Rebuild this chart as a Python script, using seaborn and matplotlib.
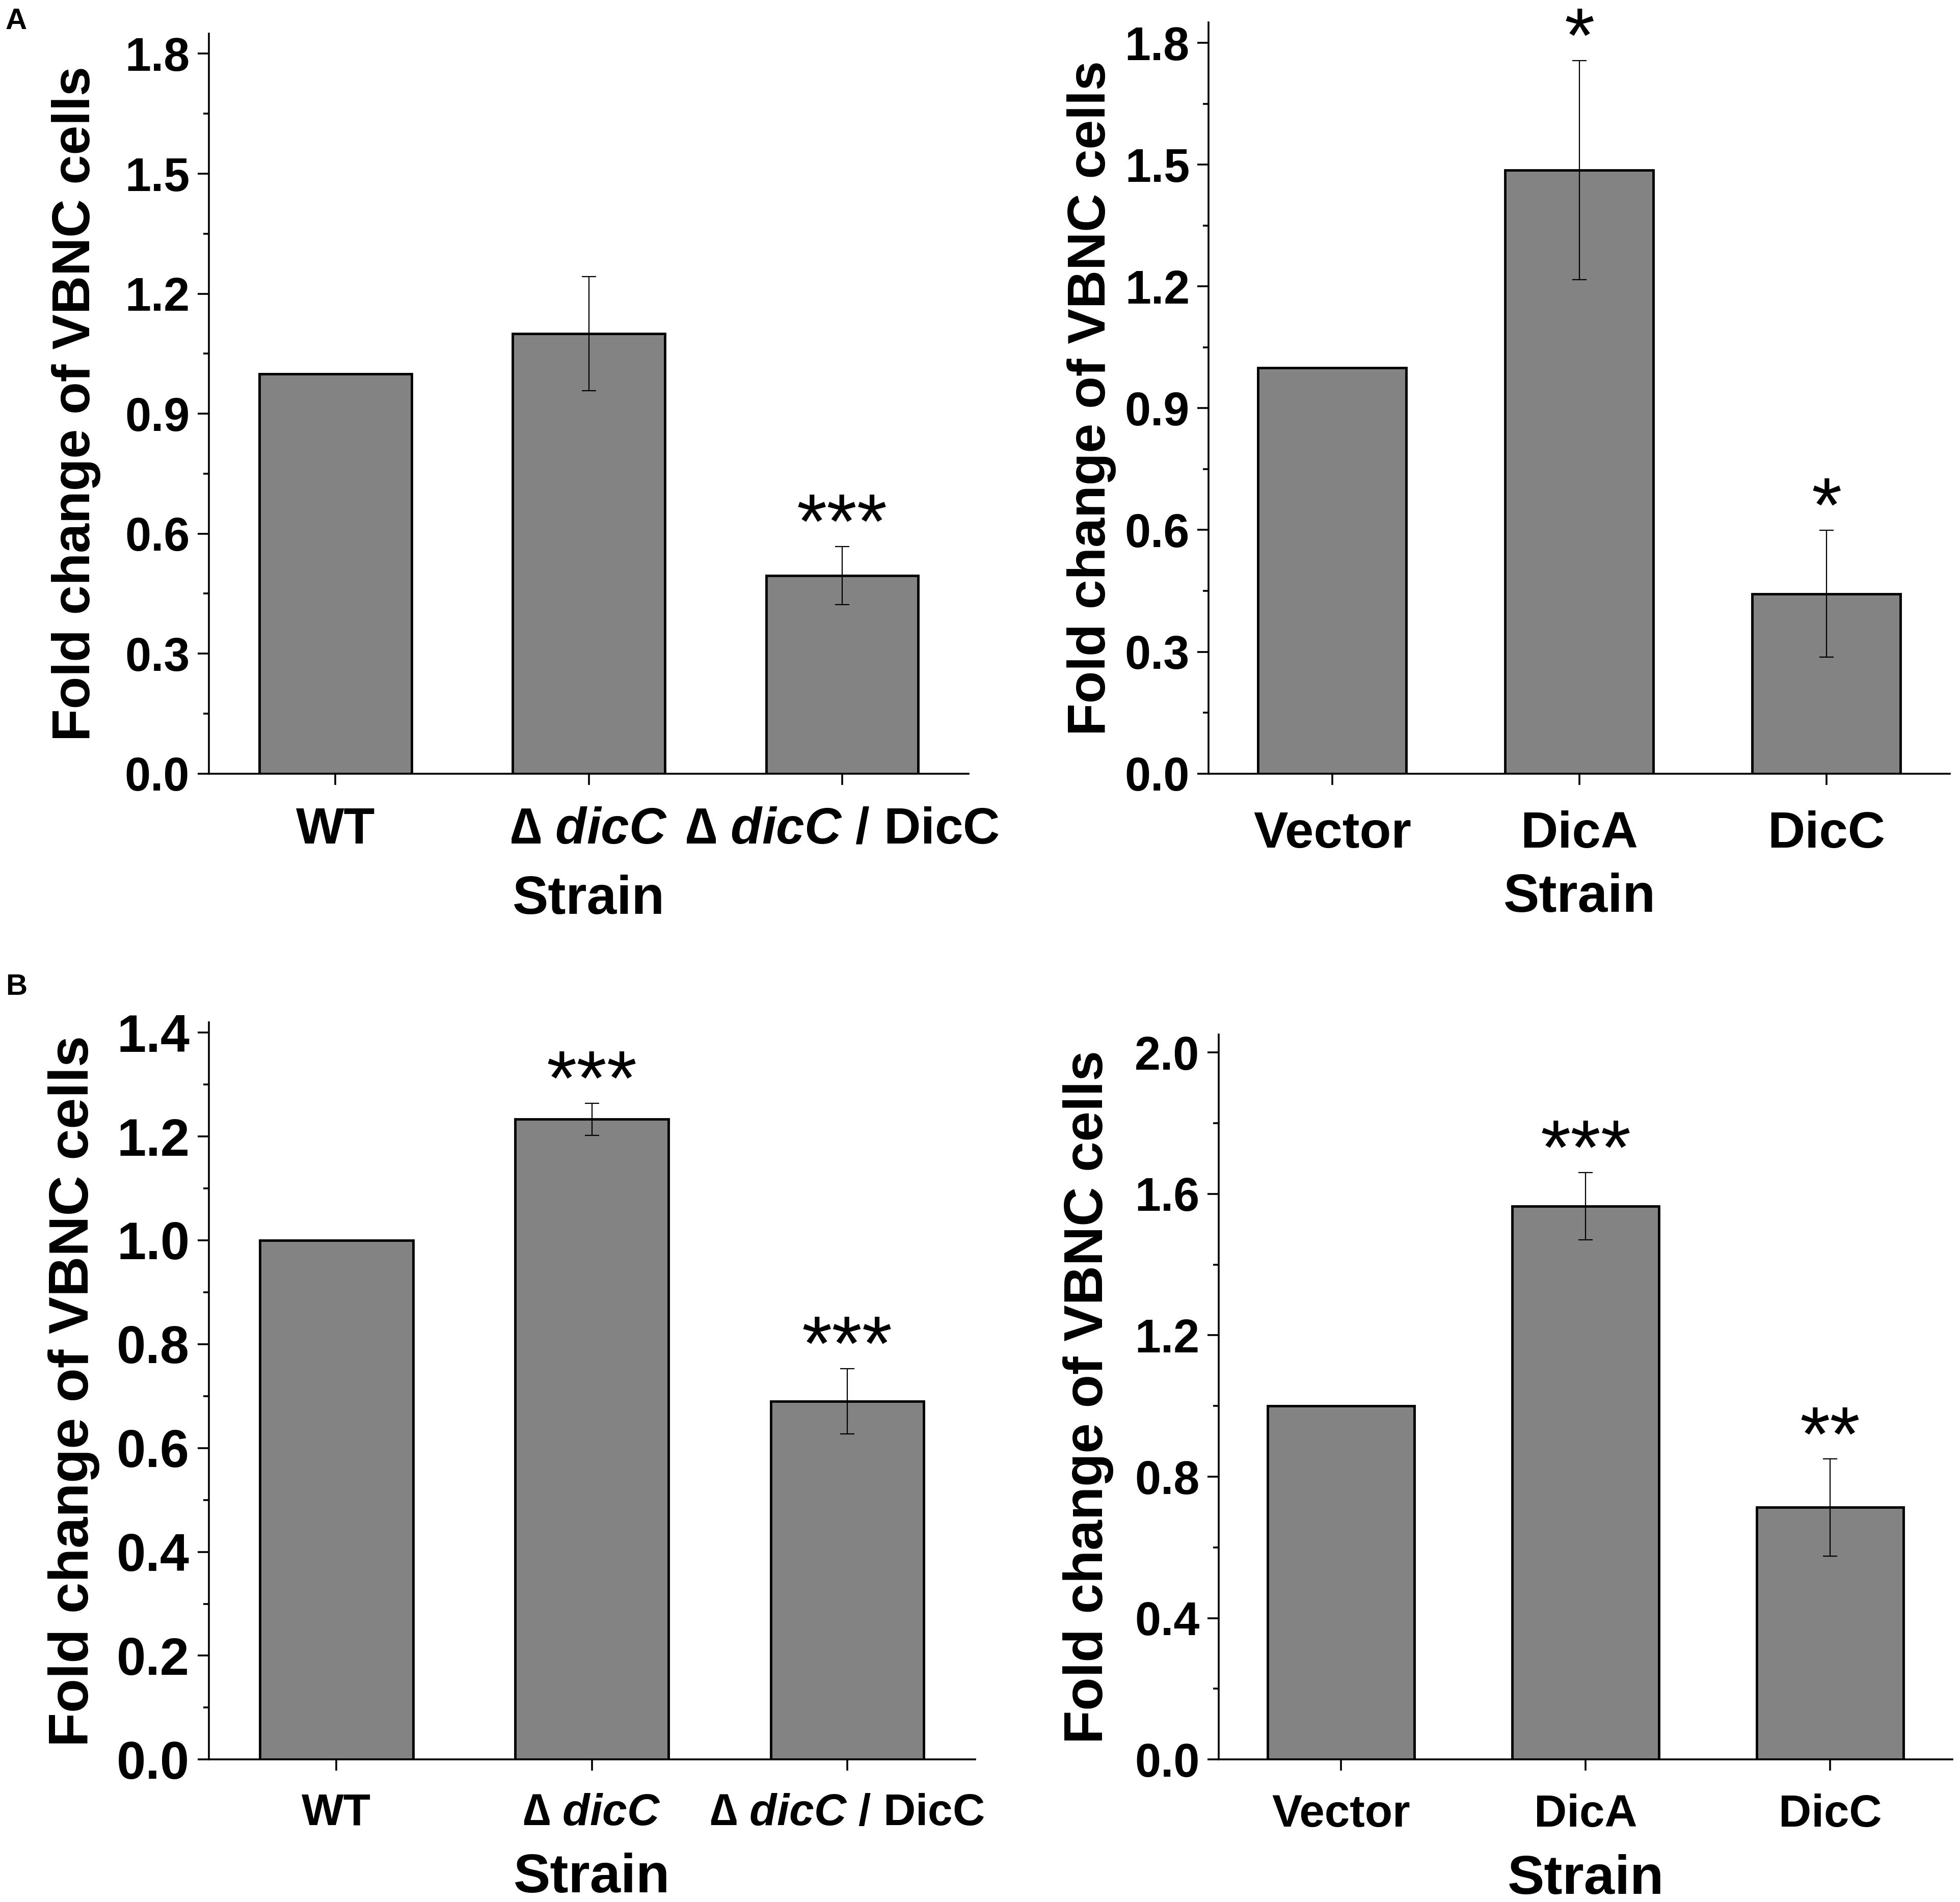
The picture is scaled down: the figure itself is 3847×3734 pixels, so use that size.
import numpy as np
import pandas as pd
import matplotlib
matplotlib.use('Agg')
import matplotlib.pyplot as plt
import seaborn as sns
from matplotlib.ticker import MultipleLocator, FormatStrFormatter

# strain labels
mutant_labels = ['WT', r'$\mathsf{∆}$ $\mathit{dicC}$', r'$\mathsf{∆}$ $\mathit{dicC}$ / DicC']
plasmid_labels = ['Vector', 'DicA', 'DicC']

# panel A, left: deletion mutant
fold_a_mut = [1.00, 1.10, 0.495]
err_a_mut = [0.0, 0.143, 0.073]
sig_a_mut = ['', '', '***']

# panel A, right: overexpression
fold_a_ovr = [1.00, 1.486, 0.443]
err_a_ovr = [0.0, 0.27, 0.156]
sig_a_ovr = ['', '*', '*']

# panel B, left: deletion mutant
fold_b_mut = [1.00, 1.233, 0.69]
err_b_mut = [0.0, 0.031, 0.063]
sig_b_mut = ['', '***', '***']

# panel B, right: overexpression
fold_b_ovr = [1.00, 1.565, 0.713]
err_b_ovr = [0.0, 0.095, 0.137]
sig_b_ovr = ['', '***', '**']

sns.set_style('ticks')
plt.rcParams['font.family'] = ['Liberation Sans', 'DejaVu Sans']
plt.rcParams['font.weight'] = 'bold'
plt.rcParams['axes.labelweight'] = 'bold'
for key in ['text.color', 'axes.labelcolor', 'xtick.color', 'ytick.color', 'axes.edgecolor']:
    plt.rcParams[key] = 'black'
plt.rcParams['mathtext.fontset'] = 'custom'
plt.rcParams['mathtext.rm'] = 'Liberation Sans:bold'
plt.rcParams['mathtext.bf'] = 'Liberation Sans:bold'
plt.rcParams['mathtext.it'] = 'Liberation Sans:italic:bold'
plt.rcParams['mathtext.sf'] = 'Liberation Sans'
plt.rcParams['mathtext.fallback'] = 'stixsans'

BAR = '#838383'
W, H = 1568, 1522  # layout measured in reference display units

fig = plt.figure(figsize=(38.47, 37.34), dpi=100)


def rect(left, right, bottom, top):
    return [left / W, 1 - bottom / H, (right - left) / W, (bottom - top) / H]


def draw_panel(box, labels, vals, errs, sigs, ymax, step,
               ytick_fs, xtick_fs, ylab_fs, xlab_fs, ylab_pad, xtick_pad, xlab_pad):
    ax = fig.add_axes(box)
    df = pd.DataFrame({'Strain': labels, 'Fold': vals})
    sns.barplot(data=df, x='Strain', y='Fold', order=labels, color=BAR, saturation=1,
                width=0.6, edgecolor='black', linewidth=3.5, errorbar=None, ax=ax)
    xs = np.arange(len(labels))
    vals = np.asarray(vals)
    errs = np.asarray(errs)
    m = errs > 0
    ax.errorbar(xs[m], vals[m], yerr=errs[m], fmt='none', ecolor='black',
                elinewidth=1.6, capsize=10, capthick=1.6, zorder=5)
    for x, v, e, s in zip(xs, vals, errs, sigs):
        if s:
            ax.annotate(s, (x, v + e), xytext=(0, -2), textcoords='offset points',
                        ha='center', va='baseline', fontsize=110, fontweight='normal',
                        annotation_clip=False)

    ax.set_xlim(-0.5, len(labels) - 0.5)
    ax.set_ylim(0, ymax)
    ax.yaxis.set_major_locator(MultipleLocator(step))
    ax.yaxis.set_minor_locator(MultipleLocator(step / 2))
    ax.yaxis.set_major_formatter(FormatStrFormatter('%.1f'))
    sns.despine(ax=ax)
    for sp in ['left', 'bottom']:
        ax.spines[sp].set_linewidth(2.6)
    ax.tick_params(axis='y', which='major', length=16, width=2.6, labelsize=ytick_fs, pad=11)
    ax.tick_params(axis='y', which='minor', length=8, width=2.6)
    ax.tick_params(axis='x', length=16, width=2.6, labelsize=xtick_fs, pad=xtick_pad)
    ax.set_ylabel('Fold change of VBNC cells', fontsize=ylab_fs, labelpad=ylab_pad)
    ax.set_xlabel('Strain', fontsize=xlab_fs, labelpad=xlab_pad)
    return ax


draw_panel(rect(167, 775, 619, 27), mutant_labels, fold_a_mut, err_a_mut, sig_a_mut,
           1.85, 0.3, 66, 72, 75, 76, 34, 30, 29)
draw_panel(rect(967, 1560, 619, 18), plasmid_labels, fold_a_ovr, err_a_ovr, sig_a_ovr,
           1.85, 0.3, 66, 73, 75, 76, 12, 36, 20)
draw_panel(rect(167, 780, 1408, 818), mutant_labels, fold_b_mut, err_b_mut, sig_b_mut,
           1.42, 0.2, 74, 63, 79, 78, 24, 31, 26)
draw_panel(rect(975, 1562, 1408, 828), plasmid_labels, fold_b_ovr, err_b_ovr, sig_b_ovr,
           2.05, 0.4, 66, 64, 77, 78, 30, 32, 25)

fig.text(13 / W, 1 - 17 / H, 'A', fontsize=42, ha='center', va='center')
fig.text(13 / W, 1 - 790 / H, 'B', fontsize=42, ha='center', va='center')

fig.savefig('out.png', dpi=100)
